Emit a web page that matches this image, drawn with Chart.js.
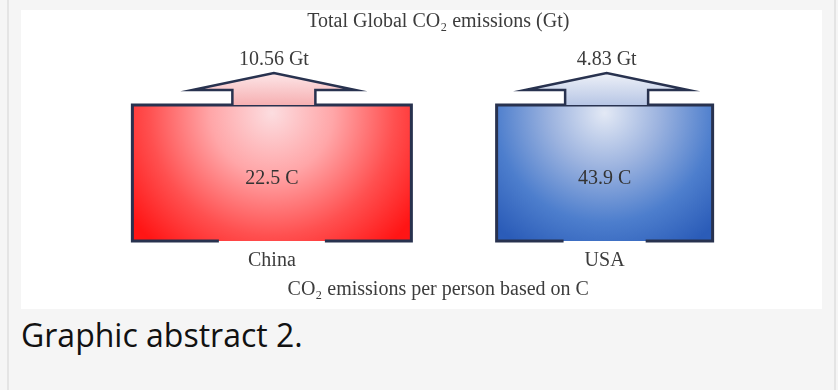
<!DOCTYPE html>
<html lang="en">
<head>
    <meta charset="UTF-8">
    <title>Graphic abstract 2</title>
    <script src="https://cdn.jsdelivr.net/npm/chart.js"></script>
    <style>
        body { margin: 0; background: #f5f5f5; width: 838px; height: 390px; overflow: hidden; position: relative; }
        #frame { position: absolute; left: 7px; top: -5px; width: 825px; height: 400px; border-left: 2px solid #e4e4e4; border-right: 2px solid #e4e4e4; }
        #box { position: absolute; left: 21px; top: 10px; width: 801px; height: 299px; background: white; }
        #caption { position: absolute; left: 21px; top: 319px; font-family: "Open Sans", sans-serif; font-size: 32px; line-height: 32px; color: #111; }
    </style>
</head>
<body>
    <div id="frame"></div>
    <div id="box"><canvas id="co2Chart"></canvas></div>
    <div id="caption">Graphic abstract 2.</div>

    <script>
        // values
        const categories = ['China', 'USA'];
        const perPersonC = [22.5, 43.9];
        const totalGt = [10.56, 4.83];

        const serif = 'Liberation Serif';
        const inkColor = '#3c3c3c';
        const edgeColor = '#28324f';
        const boxWidths = [279, 216];
        const palettes = [
            { box: ['#fcdde0', '#ffa6a8', '#ff5050', '#ff1515'], arrow: ['#fde6e8', '#f6b0b2'] },
            { box: ['#e3e9f5', '#9cb3df', '#4d7ecd', '#2b5cb8'], arrow: ['#eef1f8', '#b7c6e5'] }
        ];

        function boxFill(context) {
            const chart = context.chart;
            const area = chart.chartArea;
            const i = context.datasetIndex;
            const stops = palettes[i].box;
            if (!area) return stops[3];
            const cx = chart.scales.x.getPixelForValue(i);
            const r = Math.hypot(boxWidths[i] / 2, area.bottom - area.top) * 0.9;
            const g = chart.ctx.createRadialGradient(cx, area.top + 8, 0, cx, area.top + 8, r);
            g.addColorStop(0, stops[0]);
            g.addColorStop(0.35, stops[1]);
            g.addColorStop(0.7, stops[2]);
            g.addColorStop(1, stops[3]);
            return g;
        }

        // outline with the open bottom middle, arrows and value labels
        const decorations = {
            id: 'decorations',
            afterDatasetsDraw(chart) {
                const ctx = chart.ctx;
                ctx.save();
                chart.data.datasets.forEach((ds, i) => {
                    const el = chart.getDatasetMeta(i).data[i];
                    const left = el.x - el.width / 2, right = el.x + el.width / 2;
                    const top = el.y, bottom = el.base;
                    const gap = el.width * 0.38;

                    ctx.lineWidth = 3;
                    ctx.strokeStyle = edgeColor;
                    ctx.lineJoin = 'miter';
                    ctx.beginPath();
                    ctx.moveTo(el.x - gap / 2, bottom);
                    ctx.lineTo(left, bottom);
                    ctx.lineTo(left, top);
                    ctx.lineTo(right, top);
                    ctx.lineTo(right, bottom);
                    ctx.lineTo(el.x + gap / 2, bottom);
                    ctx.stroke();

                    // up arrow
                    const cx = el.x + 2;
                    const headBase = top - 15, tip = top - 32;
                    const outline = () => {
                        ctx.beginPath();
                        ctx.moveTo(cx - 41.5, top);
                        ctx.lineTo(cx - 41.5, headBase);
                        ctx.lineTo(cx - 81.5, headBase);
                        ctx.lineTo(cx, tip);
                        ctx.lineTo(cx + 81.5, headBase);
                        ctx.lineTo(cx + 41.5, headBase);
                        ctx.lineTo(cx + 41.5, top);
                    };
                    const g = ctx.createLinearGradient(0, tip, 0, top);
                    g.addColorStop(0, palettes[i].arrow[0]);
                    g.addColorStop(1, palettes[i].arrow[1]);
                    outline();
                    ctx.closePath();
                    ctx.fillStyle = g;
                    ctx.fill();
                    outline();
                    ctx.lineWidth = 2.5;
                    ctx.stroke();

                    ctx.fillStyle = inkColor;
                    ctx.textAlign = 'center';
                    ctx.textBaseline = 'middle';
                    ctx.font = '20px "' + serif + '"';
                    ctx.fillText(totalGt[i] + ' Gt', el.x + 2, top - 45);
                    ctx.fillStyle = '#333';
                    ctx.fillText(perPersonC[i] + ' C', el.x, top + 74);
                });
                ctx.restore();
            }
        };

        const ctx = document.getElementById('co2Chart').getContext('2d');
        new Chart(ctx, {
            type: 'bar',
            data: {
                labels: categories,
                datasets: categories.map((name, i) => ({
                    label: name,
                    data: categories.map((c, j) => j === i ? [0, 1] : null),
                    backgroundColor: boxFill,
                    borderWidth: 0,
                    maxBarThickness: boxWidths[i]
                }))
            },
            options: {
                responsive: true,
                maintainAspectRatio: false,
                animation: false,
                grouped: false,
                barPercentage: 1,
                categoryPercentage: 1,
                layout: { padding: { left: 84.5, right: 51, top: 0, bottom: 0 } },
                plugins: {
                    legend: { display: false },
                    tooltip: { enabled: false },
                    title: {
                        display: true,
                        text: 'Total Global CO\u2082 emissions (Gt)',
                        color: inkColor,
                        font: { family: serif, size: 20, weight: 'normal' },
                        padding: { top: 0, bottom: 71 }
                    }
                },
                scales: {
                    x: {
                        grid: { display: false, drawTicks: false },
                        border: { display: false },
                        ticks: { color: inkColor, padding: 8, font: { family: serif, size: 20 } },
                        title: {
                            display: true,
                            text: 'CO\u2082 emissions per person based on C',
                            color: inkColor,
                            font: { family: serif, size: 20 },
                            padding: { top: -3, bottom: 7 }
                        }
                    },
                    y: { display: false, min: 0, max: 1 }
                }
            },
            plugins: [decorations]
        });
    </script>
</body>
</html>
